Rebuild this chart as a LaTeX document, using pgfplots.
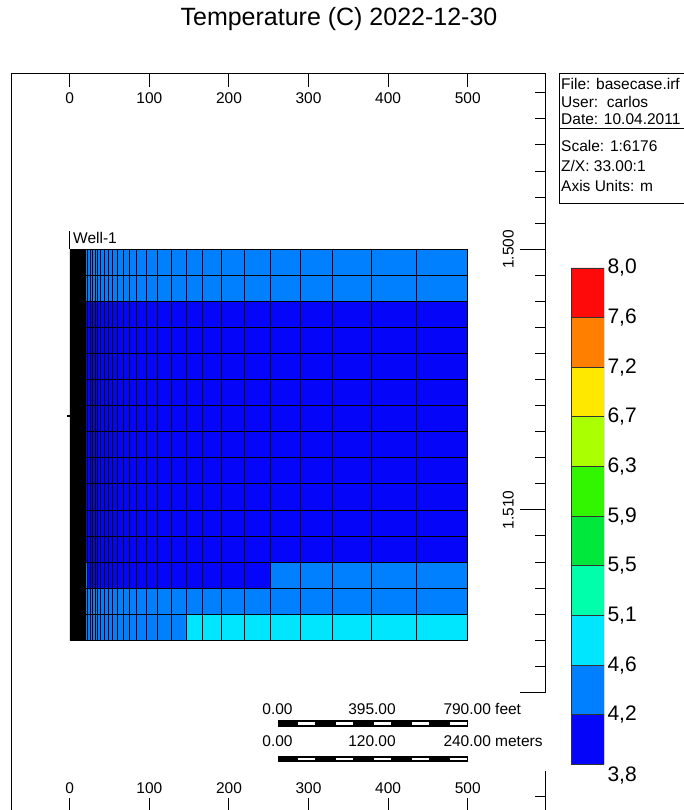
\documentclass[border=0pt]{standalone}
\usepackage{pgfplots}
\pgfplotsset{compat=1.18}
\usepackage{fontspec}
\setmainfont{Liberation Sans}
\definecolor{cblue}{RGB}{5,5,250}
\definecolor{cazure}{RGB}{0,128,255}
\definecolor{ccyan}{RGB}{0,230,255}
\definecolor{caqua}{RGB}{0,255,170}
\definecolor{cgreen}{RGB}{0,232,60}
\definecolor{clime}{RGB}{50,245,0}
\definecolor{cyg}{RGB}{170,255,0}
\definecolor{cyellow}{RGB}{255,232,0}
\definecolor{corange}{RGB}{255,128,0}
\definecolor{cred}{RGB}{255,10,10}
\newcommand{\fs}{\fontsize{15.5}{18}\selectfont}
\newcommand{\cbf}{\fontsize{21}{24}\selectfont}
\pgfplotsset{gl/.style={black, line width=0.8pt}}
\begin{document}
\begin{tikzpicture}
\path[use as bounding box] (0,0) rectangle (683pt,-810pt);
% main axis with grid cells
\begin{axis}[
  at={(11.7pt,-73.3pt)}, anchor=north west,
  scale only axis, width=533.3pt, height=738.2pt,
  xmin=-73, xmax=597.1, ymin=1493.25, ymax=1521.57, y dir=reverse,
  axis line style={line width=1pt},
  xtick=\empty,
  ytick={1500,1510}, yticklabels={1.500,1.510},
  ytick pos=right, yticklabel pos=right,
  minor ytick={1494,1495,1496,1497,1498,1499,1500,1501,1502,1503,1504,1505,1506,1507,1508,1509,1510,1511,1512,1513,1514,1515,1516,1517,1518,1519,1520,1521},
  extra y ticks={1517,1520}, extra y tick labels={},
  major tick length=25pt, minor tick length=10pt,
  tick style={line width=1pt, black},
  yticklabel style={font=\fs, anchor=center, xshift=-36.7pt, rotate=90},
]
% temperature classes of the cells
\addplot[fill=cazure, draw=none] coordinates {(20,1500) (500,1500) (500,1502) (20,1502) (20,1500)};
\addplot[fill=cblue, draw=none] coordinates {(20,1502) (500,1502) (500,1512) (20,1512) (20,1502)};
\addplot[fill=cblue, draw=none] coordinates {(20,1512) (251.6,1512) (251.6,1513) (20,1513) (20,1512)};
\addplot[fill=cazure, draw=none] coordinates {(20,1512) (22.5,1512) (22.5,1513) (20,1513) (20,1512)};
\addplot[fill=cazure, draw=none] coordinates {(251.6,1512) (500,1512) (500,1513) (251.6,1513) (251.6,1512)};
\addplot[fill=cazure, draw=none] coordinates {(20,1513) (500,1513) (500,1514) (20,1514) (20,1513)};
\addplot[fill=cazure, draw=none] coordinates {(20,1514) (146.0,1514) (146.0,1515) (20,1515) (20,1514)};
\addplot[fill=ccyan, draw=none] coordinates {(146.0,1514) (500,1514) (500,1515) (146.0,1515) (146.0,1514)};
% dense cells next to the well
\addplot[fill=black, draw=none] coordinates {(0,1500) (20,1500) (20,1515) (0,1515) (0,1500)};
% grid lines
\pgfplotsinvokeforeach{20.0,22.5,25.4,28.3,31.7,35.1,38.8,43.4,48.4,53.9,59.7,67.2,74.8,84.1,96.6,110.0,127.2,146.0,166.5,190.9,218.9,251.6,289.3,330.4,379.4,435.9,500.0}{
  \addplot[gl] coordinates {(#1,1500) (#1,1515)};
}
\pgfplotsinvokeforeach{1500,1501,1502,1503,1504,1505,1506,1507,1508,1509,1510,1511,1512,1513,1514,1515}{
  \addplot[gl] coordinates {(0,#1) (500,#1)};
}
% well
\addplot[black, line width=1pt] coordinates {(0,1499.3) (0,1500)};
\addplot[black, line width=1.2pt] coordinates {(-3,1506.4) (0,1506.4)};
\node[anchor=west, font=\fs, inner sep=0pt] at (axis cs:4,1499.57) {Well-1};
\end{axis}
% top x ticks and labels
\begin{axis}[
  at={(11.7pt,-73.3pt)}, anchor=north west,
  scale only axis, width=533.3pt, height=738.2pt,
  xmin=-73, xmax=597.1, ymin=1493.25, ymax=1521.57, y dir=reverse,
  axis line style={draw=none},
  ytick=\empty,
  xtick={0,100,200,300,400,500}, xticklabels={0,100,200,300,400,500},
  xtick pos=both, xticklabel pos=upper,
  major tick length=13.4pt,
  tick style={line width=1pt, black},
  xticklabel style={font=\fs, anchor=center, yshift=-24.7pt},
]
\end{axis}
% bottom x labels
\begin{axis}[
  at={(11.7pt,-73.3pt)}, anchor=north west,
  scale only axis, width=533.3pt, height=738.2pt,
  xmin=-73, xmax=597.1, ymin=1493.25, ymax=1521.57, y dir=reverse,
  axis line style={draw=none},
  ytick=\empty,
  xtick={0,100,200,300,400,500}, xticklabels={0,100,200,300,400,500},
  xtick pos=lower, xticklabel pos=lower,
  major tick length=0pt,
  tick style={draw=none},
  xticklabel style={font=\fs, anchor=center, yshift=23.5pt},
]
\end{axis}
% colour bar
\begin{axis}[
  at={(571pt,-267.9pt)}, anchor=north west,
  scale only axis, width=33pt, height=511.3pt,
  xmin=0, xmax=1, ymin=-0.3, ymax=10,
  axis line style={draw=none},
  xtick=\empty,
  ytick={-0.22,1,2,3,4,5,6,7,8,9,10},
  yticklabels={{3,8},{4,2},{4,6},{5,1},{5,5},{5,9},{6,3},{6,7},{7,2},{7,6},{8,0}},
  ytick pos=right, yticklabel pos=right,
  major tick length=0pt, tick style={draw=none},
  yticklabel style={font=\cbf, anchor=west},
]
\addplot[fill=cblue, draw=black!80, line width=0.8pt] coordinates {(0,0) (1,0) (1,1) (0,1) (0,0)};
\addplot[fill=cazure, draw=black!80, line width=0.8pt] coordinates {(0,1) (1,1) (1,2) (0,2) (0,1)};
\addplot[fill=ccyan, draw=black!80, line width=0.8pt] coordinates {(0,2) (1,2) (1,3) (0,3) (0,2)};
\addplot[fill=caqua, draw=black!80, line width=0.8pt] coordinates {(0,3) (1,3) (1,4) (0,4) (0,3)};
\addplot[fill=cgreen, draw=black!80, line width=0.8pt] coordinates {(0,4) (1,4) (1,5) (0,5) (0,4)};
\addplot[fill=clime, draw=black!80, line width=0.8pt] coordinates {(0,5) (1,5) (1,6) (0,6) (0,5)};
\addplot[fill=cyg, draw=black!80, line width=0.8pt] coordinates {(0,6) (1,6) (1,7) (0,7) (0,6)};
\addplot[fill=cyellow, draw=black!80, line width=0.8pt] coordinates {(0,7) (1,7) (1,8) (0,8) (0,7)};
\addplot[fill=corange, draw=black!80, line width=0.8pt] coordinates {(0,8) (1,8) (1,9) (0,9) (0,8)};
\addplot[fill=cred, draw=black!80, line width=0.8pt] coordinates {(0,9) (1,9) (1,10) (0,10) (0,9)};
\end{axis}
% decorations: title, info box, scale bars
\begin{scope}[x=1pt, y=-1pt]
\node[font=\fontsize{25}{29}\selectfont] at (339,19) {Temperature (C) 2022-12-30};
\fill[white] (255,693) rectangle (549,771);
\node[font=\fs] at (277.5,709) {0.00};
\node[font=\fs] at (372,709) {395.00};
\node[font=\fs, anchor=west, inner sep=0pt] at (443.3,709) {790.00 feet};
\fill[black] (278.3,720) rectangle (467.7,726.7);
\foreach \i in {1,3,5,7,9} {
  \fill[white] ({278.3+\i*18.94+1.2},722) rectangle ({278.3+(\i+1)*18.94-1.2},724.7);
}
\node[font=\fs] at (277.5,740.7) {0.00};
\node[font=\fs] at (372,740.7) {120.00};
\node[font=\fs, anchor=west, inner sep=0pt] at (443.3,740.7) {240.00 meters};
\fill[black] (278.3,755.5) rectangle (467.7,762.2);
\foreach \i in {1,3,5,7,9} {
  \fill[white] ({278.3+\i*18.94+1.2},757.5) rectangle ({278.3+(\i+1)*18.94-1.2},760.2);
}
\draw[line width=1pt] (559,74) rectangle (720,204);
\draw[line width=1pt] (559,129) -- (720,129);
\node[font=\fs, anchor=west, inner sep=0pt] at (561,84) {File: basecase.irf};
\node[font=\fs, anchor=west, inner sep=0pt] at (561,102) {User:\ \ carlos};
\node[font=\fs, anchor=west, inner sep=0pt] at (561,119) {Date: 10.04.2011};
\node[font=\fs, anchor=west, inner sep=0pt] at (561,146) {Scale: 1:6176};
\node[font=\fs, anchor=west, inner sep=0pt] at (561,166) {Z/X: 33.00:1};
\node[font=\fs, anchor=west, inner sep=0pt] at (561,186) {Axis Units: m};
\end{scope}
\end{tikzpicture}
\end{document}
